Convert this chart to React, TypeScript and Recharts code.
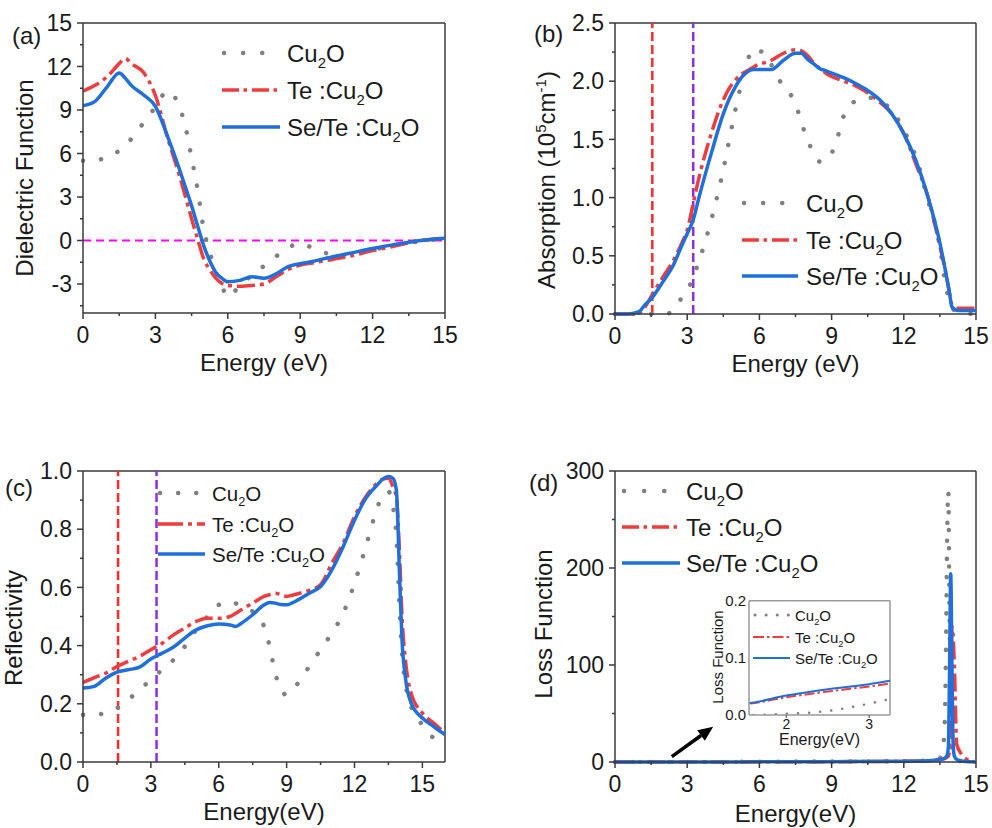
import React from "react";
import { LineChart, Line, XAxis, YAxis, ReferenceLine } from "recharts";

const FONT = '"Liberation Sans", Arial, Helvetica, sans-serif';
const INK = "#1a1a1a";
const FRAME = "#3a3a3a";
const GRAY = "#808080";
const RED = "#f03c3c";
const BLUE = "#1f6fdc";
const VRED = "#ff2b2b";
const VPURPLE = "#8c2ee6";
const MAGENTA = "#ff00ff";

// legend names, each one is followed by a subscript 2 and "O"
const seriesNames = ["Cu", "Te :Cu", "Se/Te :Cu"];

// (a) dielectric function
const dielE = [0, 0.5, 1, 1.5, 1.75, 2, 2.5, 3, 3.5, 4, 4.25, 4.5, 4.75, 5, 5.25, 5.5, 5.75, 6, 6.5, 7, 7.5, 8, 8.5, 9, 9.5, 10, 11, 12, 13, 14, 15];
const dielCu2O = [5.5, 5.55, 5.7, 6.2, 6.55, 7.0, 8.1, 9.2, 10.3, 9.2, 7.8, 5.7, 3.5, 0.8, -0.8, -2.1, -3.1, -3.9, -3.1, -2.4, -1.75, -1.1, -0.5, -0.2, -0.5, -0.85, -1.0, -0.65, -0.3, -0.05, 0.15];
const dielTe = [10.3, 10.7, 11.3, 12.2, 12.55, 12.2, 11.6, 10.0, 7.1, 4.45, 3.0, 1.5, 0.1, -1.25, -2.0, -2.6, -2.95, -3.1, -3.15, -3.1, -3.0, -2.5, -2.0, -1.7, -1.55, -1.4, -1.1, -0.7, -0.35, 0, 0.15];
const dielSeTe = [9.3, 9.6, 10.6, 11.55, 11.2, 10.7, 10.05, 9.25, 7.2, 4.9, 3.65, 2.4, 1.0, -0.35, -1.4, -2.2, -2.6, -2.85, -2.75, -2.5, -2.6, -2.3, -1.8, -1.6, -1.45, -1.25, -0.9, -0.55, -0.25, 0, 0.15];

// (b) absorption, 10^5 cm^-1
const absE = [0, 0.5, 1, 1.25, 1.5, 2, 2.4, 2.8, 3, 3.25, 3.5, 4, 4.5, 4.75, 5, 5.25, 5.5, 5.75, 6, 6.25, 6.5, 7, 7.5, 7.75, 8, 8.25, 8.5, 8.75, 9, 9.25, 9.5, 10, 10.5, 11, 11.5, 12, 12.5, 13, 13.5, 13.75, 13.9, 14, 14.25, 15];
const absCu2O = [0, 0, 0, 0, 0, 0, 0.02, 0.15, 0.2, 0.32, 0.46, 0.81, 1.24, 1.5, 1.75, 1.98, 2.17, 2.28, 2.26, 2.24, 2.14, 1.95, 1.81, 1.64, 1.5, 1.38, 1.31, 1.32, 1.38, 1.52, 1.7, 1.83, 1.86, 1.83, 1.75, 1.58, 1.35, 0.98, 0.58, 0.23, 0.12, 0.06, 0.01, 0];
const absTe = [0, 0, 0.01, 0.06, 0.15, 0.32, 0.45, 0.62, 0.72, 0.95, 1.18, 1.55, 1.84, 1.94, 2.01, 2.06, 2.09, 2.12, 2.15, 2.16, 2.18, 2.24, 2.27, 2.26, 2.22, 2.16, 2.11, 2.07, 2.04, 2.02, 2.0, 1.96, 1.9, 1.82, 1.72, 1.55, 1.29, 1.01, 0.58, 0.35, 0.18, 0.08, 0.05, 0.05];
const absSeTe = [0, 0, 0.02, 0.08, 0.13, 0.28, 0.41, 0.6, 0.69, 0.81, 1.01, 1.38, 1.72, 1.85, 1.95, 2.03, 2.08, 2.1, 2.1, 2.1, 2.1, 2.18, 2.24, 2.24, 2.19, 2.15, 2.11, 2.09, 2.07, 2.05, 2.03, 1.98, 1.92, 1.84, 1.72, 1.55, 1.32, 1.01, 0.61, 0.35, 0.18, 0.06, 0.03, 0.03];

// (c) reflectivity
const reflE = [0, 0.5, 1, 1.5, 2, 2.5, 3, 3.5, 4, 4.5, 5, 5.5, 6, 6.5, 6.75, 7, 7.5, 8, 8.25, 8.5, 8.75, 9, 9.25, 9.5, 10, 10.5, 11, 11.5, 12, 12.5, 13, 13.25, 13.5, 13.7, 13.85, 14, 14.1, 14.25, 14.5, 15, 15.5, 16];
const reflCu2O = [0.162, 0.163, 0.168, 0.185, 0.214, 0.248, 0.283, 0.317, 0.351, 0.397, 0.454, 0.5, 0.54, 0.551, 0.545, 0.534, 0.517, 0.466, 0.397, 0.305, 0.248, 0.231, 0.243, 0.271, 0.328, 0.386, 0.443, 0.511, 0.614, 0.74, 0.872, 0.918, 0.929, 0.878, 0.775, 0.511, 0.374, 0.271, 0.191, 0.128, 0.085, 0.09];
const reflTe = [0.273, 0.29, 0.305, 0.328, 0.346, 0.363, 0.386, 0.408, 0.437, 0.46, 0.483, 0.494, 0.494, 0.5, 0.511, 0.523, 0.546, 0.569, 0.575, 0.58, 0.575, 0.569, 0.573, 0.578, 0.59, 0.609, 0.683, 0.752, 0.843, 0.912, 0.958, 0.972, 0.975, 0.945, 0.91, 0.7, 0.5, 0.351, 0.237, 0.168, 0.134, 0.1];
const reflSeTe = [0.254, 0.26, 0.288, 0.309, 0.317, 0.326, 0.354, 0.374, 0.395, 0.426, 0.454, 0.468, 0.474, 0.471, 0.466, 0.477, 0.506, 0.54, 0.548, 0.546, 0.541, 0.54, 0.547, 0.557, 0.58, 0.603, 0.66, 0.74, 0.831, 0.906, 0.952, 0.972, 0.981, 0.975, 0.935, 0.62, 0.42, 0.29, 0.203, 0.151, 0.122, 0.094];

// (d) loss function (the inset shows 1.55-3.25 eV of the same data)
const lossE = [0, 1.55, 2, 2.5, 3, 3.25, 4, 6, 8, 10, 12, 13, 13.5, 13.6, 13.7, 13.75, 13.8, 13.85, 13.9, 13.95, 14, 14.05, 14.1, 14.2, 14.4, 14.6, 14.8, 15];
const lossCu2O = [0, 0, 0.002, 0.007, 0.02, 0.028, 0.06, 0.2, 0.5, 0.6, 0.8, 1.5, 4, 10, 40, 110, 230, 280, 150, 50, 15, 6, 3, 1.5, 0.8, 0.4, 0.2, 0.1];
const lossTe = [0.01, 0.02, 0.031, 0.041, 0.05, 0.055, 0.07, 0.13, 0.3, 0.4, 0.7, 1.3, 2.5, 3, 3.5, 4, 5, 6, 12, 60, 140, 130, 100, 18, 8, 3, 1, 0.3];
const lossSeTe = [0.01, 0.021, 0.034, 0.045, 0.054, 0.06, 0.08, 0.15, 0.3, 0.4, 0.7, 1.2, 2.5, 3, 4, 5, 7, 15, 90, 194, 100, 20, 6, 2.5, 1, 0.5, 0.2, 0.1];

// band gap markers (eV)
const gapTe = 1.55;
const gapSeTe = 3.25;

// ticks
const xMajor = [0, 3, 6, 9, 12, 15];
const xMinor = [1.5, 4.5, 7.5, 10.5, 13.5];
const dielYMajor = [-3, 0, 3, 6, 9, 12, 15];
const dielYMinor = [-4.5, -1.5, 1.5, 4.5, 7.5, 10.5, 13.5];
const absYMajor = [0, 0.5, 1, 1.5, 2, 2.5];
const absYMinor = [0.25, 0.75, 1.25, 1.75, 2.25];
const reflYMajor = [0, 0.2, 0.4, 0.6, 0.8, 1];
const reflYMinor = [0.1, 0.3, 0.5, 0.7, 0.9];
const lossYMajor = [0, 100, 200, 300];
const lossYMinor = [50, 150, 250];
const insetXMajor = [2, 3];
const insetYMajor = [0, 0.1, 0.2];

const rows = (e: number[], a: number[], b: number[], c: number[]) =>
    e.map((x, i) => ({ e: x, cu: a[i], te: b[i], se: c[i] }));

const dielData = rows(dielE, dielCu2O, dielTe, dielSeTe);
const absData = rows(absE, absCu2O, absTe, absSeTe);
const reflData = rows(reflE, reflCu2O, reflTe, reflSeTe);
const lossData = rows(lossE, lossCu2O, lossTe, lossSeTe);

const fmtInt = (v: number) => String(v);
const fmt1 = (v: number) => v.toFixed(1);

const isIn = (list: number[], v: number) => list.some((m) => Math.abs(m - v) < 1e-9);

type TickOpt = { majors: number[]; fmt: (v: number) => string; fs: number; gap: number; major?: number; minor?: number; color?: string };

const xTick = (o: TickOpt) => (p: any) => {
    const v = p.payload.value;
    const big = isIn(o.majors, v);
    return (
        <g>
            <line x1={p.x} x2={p.x} y1={p.y} y2={p.y + (big ? o.major ?? 6 : o.minor ?? 3)} stroke={o.color ?? FRAME} strokeWidth={1.5} />
            {big && (
                <text x={p.x} y={p.y + o.gap} textAnchor="middle" fontSize={o.fs} fontFamily={FONT} fill={INK}>
                    {o.fmt(v)}
                </text>
            )}
        </g>
    );
};

const yTick = (o: TickOpt) => (p: any) => {
    const v = p.payload.value;
    const big = isIn(o.majors, v);
    return (
        <g>
            <line x1={p.x} x2={p.x - (big ? o.major ?? 6 : o.minor ?? 3)} y1={p.y} y2={p.y} stroke={o.color ?? FRAME} strokeWidth={1.5} />
            {big && (
                <text x={p.x - o.gap} y={p.y + o.fs * 0.36} textAnchor="end" fontSize={o.fs} fontFamily={FONT} fill={INK}>
                    {o.fmt(v)}
                </text>
            )}
        </g>
    );
};

const xTitle = (text: string, dy: number, fs: number) => (p: any) => {
    const vb = p.viewBox;
    return (
        <text x={vb.x + vb.width / 2} y={vb.y + dy} textAnchor="middle" fontSize={fs} fontFamily={FONT} fill={INK}>
            {text}
        </text>
    );
};

const yTitle = (content: React.ReactNode, x: number, y: number, fs: number) => () => (
    <text x={x} y={y} transform={`rotate(-90 ${x} ${y})`} textAnchor="middle" fontSize={fs} fontFamily={FONT} fill={INK}>
        {content}
    </text>
);

const Arrow = (p: any) => {
    const { x1, y1, x2, y2 } = p;
    const a = Math.atan2(y2 - y1, x2 - x1);
    const L = 15;
    const W = 6.5;
    const bx = x2 - L * Math.cos(a);
    const by = y2 - L * Math.sin(a);
    const nx = -Math.sin(a) * W;
    const ny = Math.cos(a) * W;
    return (
        <g>
            <line x1={x1} y1={y1} x2={bx} y2={by} stroke="#000" strokeWidth={3.5} />
            <polygon points={`${x2},${y2} ${bx + nx},${by + ny} ${bx - nx},${by - ny}`} fill="#000" />
        </g>
    );
};

const seriesLines = (gw = 4.5) => [
    <Line key="cu" type="monotone" dataKey="cu" stroke={GRAY} strokeWidth={gw} strokeDasharray="0.1 18" strokeLinecap="round" dot={false} activeDot={false} isAnimationActive={false} />,
    <Line key="te" type="monotone" dataKey="te" stroke={RED} strokeWidth={3.5} strokeDasharray="18 5 4 5" dot={false} activeDot={false} isAnimationActive={false} />,
    <Line key="se" type="monotone" dataKey="se" stroke={BLUE} strokeWidth={3.5} dot={false} activeDot={false} isAnimationActive={false} />,
];

const frame = (xMax: number, yMax: number, color = FRAME) => [
    <ReferenceLine key="ft" y={yMax} stroke={color} strokeWidth={1.5} />,
    <ReferenceLine key="fr" x={xMax} stroke={color} strokeWidth={1.5} />,
];

const gapLines = [
    <ReferenceLine key="g1" x={gapTe} stroke={VRED} strokeWidth={2.5} strokeDasharray="9 4" />,
    <ReferenceLine key="g2" x={gapSeTe} stroke={VPURPLE} strokeWidth={2.5} strokeDasharray="9 4" />,
];

type PanelProps = {
    left: number; top: number; width: number; height: number;
    mTop: number; mRight: number; yWidth: number; xHeight: number;
    data: any[]; xDomain: [number, number]; yDomain: [number, number];
    yMajor: number[]; yMinor: number[]; yFmt: (v: number) => string;
    xLabel: string; xLabelDy: number;
    yLabel: React.ReactNode; yLabelX: number; yLabelY: number;
    extras: React.ReactNode[];
};

function Panel(p: PanelProps) {
    const xTicks = [...xMajor, ...xMinor].filter((v) => v <= p.xDomain[1]).sort((a, b) => a - b);
    const yTicks = [...p.yMajor, ...p.yMinor].sort((a, b) => a - b);
    return (
        <div style={{ position: "absolute", left: p.left, top: p.top }}>
            <LineChart width={p.width} height={p.height} data={p.data} margin={{ top: p.mTop, right: p.mRight, left: 0, bottom: 0 }}>
                <XAxis
                    dataKey="e" type="number" domain={p.xDomain} ticks={xTicks} interval={0}
                    height={p.xHeight} tickSize={0} tickMargin={0} tickLine={false}
                    axisLine={{ stroke: FRAME, strokeWidth: 1.5 }}
                    tick={xTick({ majors: xMajor, fmt: fmtInt, fs: 23, gap: 30 })}
                    label={xTitle(p.xLabel, p.xLabelDy, 24)}
                />
                <YAxis
                    type="number" domain={p.yDomain} ticks={yTicks} interval={0}
                    width={p.yWidth} tickSize={0} tickMargin={0} tickLine={false}
                    axisLine={{ stroke: FRAME, strokeWidth: 1.5 }}
                    tick={yTick({ majors: p.yMajor, fmt: p.yFmt, fs: 23, gap: 11 })}
                    label={yTitle(p.yLabel, p.yLabelX, p.yLabelY, 24)}
                />
                {frame(p.xDomain[1], p.yDomain[1])}
                {p.extras}
                {seriesLines()}
            </LineChart>
        </div>
    );
}

function Inset() {
    return (
        <div style={{ position: "absolute", left: 690, top: 580 }}>
            <LineChart width={210} height={170} data={lossData} margin={{ top: 20.7, right: 10, left: 0, bottom: 0 }}>
                <XAxis
                    dataKey="e" type="number" domain={[1.55, 3.25]} allowDataOverflow ticks={insetXMajor} interval={0}
                    height={35} tickSize={0} tickMargin={0} tickLine={false}
                    axisLine={{ stroke: "#9a9a9a", strokeWidth: 1.5 }}
                    tick={xTick({ majors: insetXMajor, fmt: fmtInt, fs: 14, gap: 13.5, major: 3, color: "#777" })}
                    label={xTitle("Energy(eV)", 30, 16)}
                />
                <YAxis
                    type="number" domain={[0, 0.2]} allowDataOverflow ticks={insetYMajor} interval={0}
                    width={59} tickSize={0} tickMargin={0} tickLine={false}
                    axisLine={{ stroke: "#9a9a9a", strokeWidth: 1.5 }}
                    tick={yTick({ majors: insetYMajor, fmt: fmt1, fs: 15, gap: 3, major: 0, color: "#777" })}
                    label={yTitle("Loss Function", 33, 77, 15)}
                />
                {frame(3.25, 0.2, "#9a9a9a")}
                <Line type="monotone" dataKey="cu" stroke={GRAY} strokeWidth={2.5} strokeDasharray="0.1 11" strokeLinecap="round" dot={false} activeDot={false} isAnimationActive={false} />
                <Line type="monotone" dataKey="te" stroke={RED} strokeWidth={2} strokeDasharray="10 3 2.5 3" dot={false} activeDot={false} isAnimationActive={false} />
                <Line type="monotone" dataKey="se" stroke={BLUE} strokeWidth={2} dot={false} activeDot={false} isAnimationActive={false} />
            </LineChart>
        </div>
    );
}

type LegendProps = { x1: number; x2: number; tx: number; ys: number[]; fs: number; dy: number; lw: number; gap: number; dash: string };

function LegendBlock({ x1, x2, tx, ys, fs, dy, lw, gap, dash }: LegendProps) {
    const styles = [
        { stroke: GRAY, strokeWidth: lw + 1, strokeDasharray: `0.1 ${gap}`, strokeLinecap: "round" as const },
        { stroke: RED, strokeWidth: lw, strokeDasharray: dash },
        { stroke: BLUE, strokeWidth: lw },
    ];
    return (
        <g>
            {seriesNames.map((name, i) => (
                <g key={name}>
                    <line x1={x1 + (i === 0 ? 2 : 0)} x2={x2} y1={ys[i]} y2={ys[i]} {...styles[i]} />
                    <text x={tx} y={ys[i] + dy} fontSize={fs} fontFamily={FONT} fill={INK}>
                        {name}
                        <tspan fontSize={fs * 0.62} dy={fs * 0.27}>2</tspan>
                        <tspan dy={-fs * 0.27}>O</tspan>
                    </text>
                </g>
            ))}
        </g>
    );
}

const panelLabel = (text: string, x: number, y: number) => (
    <text x={x} y={y} fontSize={24} fontFamily={FONT} fill={INK}>
        {text}
    </text>
);

export default function App() {
    return (
        <div style={{ position: "absolute", left: 0, top: 0, width: 992, height: 828, background: "#fff", overflow: "hidden" }}>
            <Panel
                left={0} top={0} width={460} height={380} mTop={23} mRight={15} yWidth={83} xHeight={67}
                data={dielData} xDomain={[0, 15]} yDomain={[-5, 15]}
                yMajor={dielYMajor} yMinor={dielYMinor} yFmt={fmtInt}
                xLabel="Energy (eV)" xLabelDy={58}
                yLabel="Dielectric Function" yLabelX={33} yLabelY={178}
                extras={[<ReferenceLine key="z" y={0} stroke={MAGENTA} strokeWidth={2} strokeDasharray="8 5" />]}
            />
            <Panel
                left={520} top={0} width={472} height={380} mTop={23} mRight={16} yWidth={95} xHeight={66}
                data={absData} xDomain={[0, 15]} yDomain={[0, 2.5]}
                yMajor={absYMajor} yMinor={absYMinor} yFmt={fmt1}
                xLabel="Energy (eV)" xLabelDy={58}
                yLabel={
                    <>
                        Absorption (10<tspan fontSize={15} dy={-9}>5</tspan>
                        <tspan dy={9}>cm</tspan>
                        <tspan fontSize={15} dy={-9}>-1</tspan>
                        <tspan dy={9}>)</tspan>
                    </>
                }
                yLabelX={35} yLabelY={180}
                extras={gapLines}
            />
            <Panel
                left={0} top={420} width={460} height={408} mTop={51} mRight={15} yWidth={83} xHeight={66}
                data={reflData} xDomain={[0, 16]} yDomain={[0, 1]}
                yMajor={reflYMajor} yMinor={reflYMinor} yFmt={fmt1}
                xLabel="Energy(eV)" xLabelDy={58}
                yLabel="Reflectivity" yLabelX={22} yLabelY={208}
                extras={gapLines}
            />
            <Panel
                left={520} top={420} width={472} height={408} mTop={51} mRight={16} yWidth={95} xHeight={66}
                data={lossData} xDomain={[0, 15]} yDomain={[0, 300]}
                yMajor={lossYMajor} yMinor={lossYMinor} yFmt={fmtInt}
                xLabel="Energy(eV)" xLabelDy={60}
                yLabel="Loss Function" yLabelX={32} yLabelY={204}
                extras={[<ReferenceLine key="arrow" segment={[{ x: 2.36, y: 5.5 }, { x: 4.08, y: 36.4 }]} shape={Arrow} />]}
            />
            <Inset />
            <svg width={992} height={828} style={{ position: "absolute", left: 0, top: 0, pointerEvents: "none" }}>
                {panelLabel("(a)", 12, 44)}
                {panelLabel("(b)", 534, 42)}
                {panelLabel("(c)", 5, 496)}
                {panelLabel("(d)", 529, 491)}
                <LegendBlock x1={222} x2={280} tx={287} ys={[53, 90, 127]} fs={24} dy={9} lw={3.5} gap={19} dash="17 4.5 3.5 5" />
                <LegendBlock x1={742} x2={798} tx={806} ys={[203, 240, 276]} fs={24} dy={8.5} lw={3.5} gap={19} dash="17 4.5 3.5 5" />
                <LegendBlock x1={158} x2={205} tx={212} ys={[493, 524, 554]} fs={20.5} dy={7.5} lw={3.5} gap={18} dash="25 5 4 5" />
                <LegendBlock x1={622} x2={680} tx={686} ys={[491, 527, 563]} fs={24} dy={9} lw={3.5} gap={20} dash="17 4.5 3.5 5" />
                <LegendBlock x1={753} x2={790} tx={795} ys={[615, 637, 658]} fs={15} dy={5.5} lw={2} gap={11} dash="11 3 2.5 3" />
            </svg>
        </div>
    );
}
